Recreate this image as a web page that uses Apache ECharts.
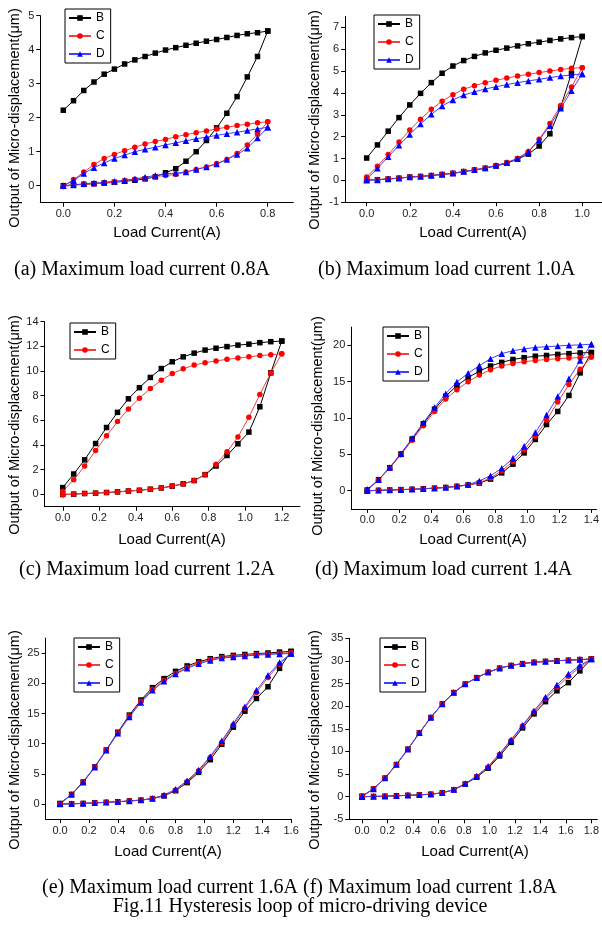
<!DOCTYPE html>
<html>
<head>
<meta charset="utf-8">
<script src="https://cdn.jsdelivr.net/npm/echarts@6/dist/echarts.min.js"></script>
<style>
  html, body { margin: 0; padding: 0; background: #fff; }
  #chart { width: 602px; height: 928px; }
</style>
</head>
<body>
<div id="chart"></div>
<script>
// ---- datos (lectura de la figura) ----
// (a) corriente máx 0.8A
const xA = [0, 0.04, 0.08, 0.12, 0.16, 0.2, 0.24, 0.28, 0.32, 0.36, 0.4, 0.44, 0.48, 0.52, 0.56, 0.6, 0.64, 0.68, 0.72, 0.76, 0.8];
const bLoA = [0.0, 0.02, 0.04, 0.06, 0.08, 0.1, 0.13, 0.16, 0.2, 0.26, 0.38, 0.5, 0.72, 1.0, 1.33, 1.7, 2.13, 2.62, 3.2, 3.8, 4.55];
const bUpA = [2.22, 2.5, 2.8, 3.05, 3.28, 3.43, 3.58, 3.7, 3.8, 3.9, 3.99, 4.06, 4.13, 4.19, 4.25, 4.3, 4.36, 4.42, 4.47, 4.5, 4.55];
const cLoA = [-0.02, 0.02, 0.05, 0.05, 0.08, 0.1, 0.15, 0.19, 0.22, 0.27, 0.3, 0.33, 0.4, 0.48, 0.55, 0.65, 0.77, 0.95, 1.2, 1.52, 1.88];
const cUpA = [-0.02, 0.18, 0.4, 0.62, 0.8, 0.92, 1.03, 1.13, 1.23, 1.3, 1.36, 1.44, 1.5, 1.56, 1.61, 1.67, 1.72, 1.77, 1.81, 1.85, 1.88];
const dLoA = [0.0, 0.02, 0.06, 0.08, 0.1, 0.13, 0.16, 0.2, 0.25, 0.3, 0.35, 0.37, 0.4, 0.48, 0.55, 0.64, 0.77, 0.92, 1.1, 1.4, 1.72];
const dUpA = [0.0, 0.15, 0.36, 0.53, 0.67, 0.8, 0.9, 1.0, 1.07, 1.13, 1.2, 1.26, 1.32, 1.38, 1.43, 1.48, 1.53, 1.57, 1.62, 1.67, 1.72];

// (b) corriente máx 1.0A
const xB = [0, 0.05, 0.1, 0.15, 0.2, 0.25, 0.3, 0.35, 0.4, 0.45, 0.5, 0.55, 0.6, 0.65, 0.7, 0.75, 0.8, 0.85, 0.9, 0.95, 1.0];
const bLoB = [0.02, 0.03, 0.06, 0.1, 0.15, 0.18, 0.22, 0.27, 0.32, 0.4, 0.47, 0.55, 0.66, 0.78, 0.97, 1.2, 1.57, 2.13, 3.35, 4.9, 6.58];
const bUpB = [1.02, 1.62, 2.25, 2.87, 3.45, 3.98, 4.47, 4.9, 5.23, 5.48, 5.67, 5.83, 5.95, 6.05, 6.15, 6.25, 6.32, 6.4, 6.47, 6.53, 6.58];
const cLoB = [0.05, 0.03, 0.07, 0.1, 0.15, 0.18, 0.22, 0.27, 0.32, 0.4, 0.47, 0.57, 0.68, 0.82, 1.0, 1.32, 1.88, 2.6, 3.42, 4.27, 5.15];
const cUpB = [0.15, 0.65, 1.18, 1.75, 2.3, 2.8, 3.25, 3.62, 3.92, 4.17, 4.33, 4.47, 4.58, 4.68, 4.77, 4.85, 4.93, 5.0, 5.07, 5.13, 5.15];
const dLoB = [0.0, 0.02, 0.06, 0.1, 0.15, 0.18, 0.22, 0.27, 0.32, 0.4, 0.48, 0.57, 0.68, 0.8, 1.0, 1.3, 1.85, 2.5, 3.3, 4.1, 4.87];
const dUpB = [0.05, 0.55, 1.08, 1.6, 2.1, 2.58, 3.02, 3.4, 3.68, 3.9, 4.05, 4.18, 4.28, 4.38, 4.47, 4.55, 4.62, 4.7, 4.77, 4.82, 4.87];

// (c) corriente máx 1.2A
const xC = [0, 0.06, 0.12, 0.18, 0.24, 0.3, 0.36, 0.42, 0.48, 0.54, 0.6, 0.66, 0.72, 0.78, 0.84, 0.9, 0.96, 1.02, 1.08, 1.14, 1.2];
const bLoC = [0.0, 0.02, 0.07, 0.1, 0.15, 0.2, 0.27, 0.33, 0.42, 0.52, 0.67, 0.85, 1.12, 1.6, 2.3, 3.15, 4.1, 5.05, 7.1, 9.85, 12.43];
const bUpC = [0.55, 1.65, 2.8, 4.12, 5.42, 6.65, 7.75, 8.65, 9.48, 10.2, 10.75, 11.15, 11.45, 11.7, 11.85, 11.98, 12.1, 12.18, 12.3, 12.38, 12.43];
const cLoC = [-0.05, 0.02, 0.07, 0.1, 0.15, 0.2, 0.27, 0.33, 0.42, 0.52, 0.67, 0.85, 1.12, 1.6, 2.45, 3.45, 4.65, 6.25, 8.1, 9.85, 11.4];
const cUpC = [0.25, 1.18, 2.3, 3.55, 4.75, 5.9, 6.92, 7.8, 8.58, 9.25, 9.8, 10.18, 10.48, 10.68, 10.82, 10.95, 11.05, 11.15, 11.25, 11.32, 11.4];

// (d) corriente máx 1.4A
const xD = [0, 0.07, 0.14, 0.21, 0.28, 0.35, 0.42, 0.49, 0.56, 0.63, 0.7, 0.77, 0.84, 0.91, 0.98, 1.05, 1.12, 1.19, 1.26, 1.33, 1.4];
const bLoD = [0.0, 0.05, 0.1, 0.15, 0.2, 0.27, 0.35, 0.45, 0.6, 0.8, 1.05, 1.6, 2.45, 3.65, 5.2, 7.05, 9.1, 10.9, 13.1, 16.2, 19.0];
const bUpD = [0.1, 1.5, 3.15, 5.05, 7.1, 9.2, 11.2, 13.0, 14.45, 15.55, 16.45, 17.15, 17.65, 18.05, 18.3, 18.5, 18.6, 18.75, 18.85, 18.95, 19.0];
const cLoD = [0.0, 0.05, 0.1, 0.15, 0.2, 0.27, 0.35, 0.45, 0.6, 0.8, 1.1, 1.75, 2.75, 4.0, 5.6, 7.5, 9.7, 12.2, 14.6, 16.7, 18.4];
const cUpD = [0.05, 1.45, 3.1, 4.95, 6.95, 8.95, 10.9, 12.6, 13.9, 15.0, 15.9, 16.65, 17.15, 17.5, 17.75, 17.9, 18.05, 18.15, 18.25, 18.3, 18.4];
const dLoD = [0.0, 0.05, 0.1, 0.15, 0.2, 0.27, 0.35, 0.45, 0.6, 0.85, 1.35, 2.05, 3.1, 4.45, 6.1, 8.0, 10.4, 12.95, 15.4, 17.9, 20.15];
const dUpD = [0.2, 1.5, 3.2, 5.1, 7.2, 9.35, 11.45, 13.35, 14.95, 16.15, 17.2, 18.15, 18.85, 19.25, 19.5, 19.7, 19.8, 19.9, 20.0, 20.05, 20.15];

// (e) corriente máx 1.6A
const xE = [0, 0.08, 0.16, 0.24, 0.32, 0.4, 0.48, 0.56, 0.64, 0.72, 0.8, 0.88, 0.96, 1.04, 1.12, 1.2, 1.28, 1.36, 1.44, 1.52, 1.6];
const bLoE = [0.0, 0.05, 0.1, 0.2, 0.28, 0.38, 0.5, 0.65, 0.9, 1.35, 2.2, 3.55, 5.25, 7.35, 9.9, 12.75, 15.4, 17.5, 19.45, 22.5, 25.3];
const bUpE = [0.1, 1.6, 3.65, 6.15, 8.95, 11.9, 14.75, 17.25, 19.3, 20.8, 22.0, 22.9, 23.6, 24.1, 24.45, 24.65, 24.8, 24.95, 25.05, 25.2, 25.3];
const cLoE = [0.0, 0.05, 0.1, 0.2, 0.28, 0.38, 0.5, 0.65, 0.9, 1.4, 2.3, 3.7, 5.5, 7.7, 10.2, 13.1, 15.9, 18.5, 21.0, 23.2, 25.1];
const cUpE = [0.05, 1.55, 3.6, 6.1, 8.9, 11.8, 14.6, 17.05, 19.05, 20.5, 21.7, 22.65, 23.4, 23.95, 24.3, 24.5, 24.65, 24.8, 24.9, 25.0, 25.1];
const dLoE = [0.0, 0.05, 0.1, 0.2, 0.28, 0.38, 0.5, 0.65, 0.9, 1.5, 2.45, 3.85, 5.65, 7.9, 10.5, 13.35, 16.15, 18.85, 21.35, 23.45, 24.95];
const dUpE = [0.05, 1.6, 3.6, 6.1, 8.9, 11.75, 14.45, 16.85, 18.85, 20.35, 21.55, 22.5, 23.25, 23.8, 24.2, 24.4, 24.55, 24.7, 24.8, 24.9, 24.95];

// (f) corriente máx 1.8A
const xF = [0, 0.09, 0.18, 0.27, 0.36, 0.45, 0.54, 0.63, 0.72, 0.81, 0.9, 0.99, 1.08, 1.17, 1.26, 1.35, 1.44, 1.53, 1.62, 1.71, 1.8];
const bLoF = [0.0, 0.05, 0.1, 0.2, 0.3, 0.4, 0.55, 0.85, 1.5, 2.8, 4.3, 6.3, 9.0, 12.0, 15.2, 18.3, 21.0, 23.4, 25.2, 27.8, 30.4];
const bUpF = [0.1, 1.7, 4.1, 7.1, 10.5, 14.1, 17.5, 20.5, 23.0, 24.9, 26.3, 27.5, 28.4, 29.0, 29.4, 29.7, 29.9, 30.05, 30.15, 30.3, 30.4];
const cLoF = [0.0, 0.05, 0.1, 0.2, 0.3, 0.4, 0.55, 0.85, 1.55, 2.85, 4.45, 6.5, 9.3, 12.4, 15.6, 18.7, 21.6, 24.2, 26.6, 28.6, 30.4];
const cUpF = [0.1, 1.7, 4.1, 7.1, 10.5, 14.1, 17.5, 20.5, 23.0, 24.9, 26.3, 27.5, 28.4, 29.0, 29.4, 29.7, 29.9, 30.05, 30.15, 30.3, 30.4];
const dLoF = [0.0, 0.05, 0.1, 0.2, 0.3, 0.4, 0.55, 0.85, 1.6, 2.9, 4.55, 6.7, 9.5, 12.6, 15.8, 19.0, 22.0, 24.7, 27.1, 29.0, 30.4];
const dUpF = [0.1, 1.7, 4.1, 7.1, 10.5, 14.1, 17.5, 20.5, 23.0, 24.9, 26.3, 27.5, 28.4, 29.0, 29.4, 29.7, 29.9, 30.05, 30.15, 30.3, 30.4];

// marcas de los ejes
const xTicksA = [0, 0.2, 0.4, 0.6, 0.8];
const yTicksA = [0, 1, 2, 3, 4, 5];
const xTicksB = [0, 0.2, 0.4, 0.6, 0.8, 1.0];
const yTicksB = [-1, 0, 1, 2, 3, 4, 5, 6, 7];
const xTicksC = [0, 0.2, 0.4, 0.6, 0.8, 1.0, 1.2];
const yTicksC = [0, 2, 4, 6, 8, 10, 12, 14];
const xTicksD = [0, 0.2, 0.4, 0.6, 0.8, 1.0, 1.2, 1.4];
const yTicksD = [0, 5, 10, 15, 20];
const xTicksE = [0, 0.2, 0.4, 0.6, 0.8, 1.0, 1.2, 1.4, 1.6];
const yTicksE = [0, 5, 10, 15, 20, 25];
const xTicksF = [0, 0.2, 0.4, 0.6, 0.8, 1.0, 1.2, 1.4, 1.6, 1.8];
const yTicksF = [-5, 0, 5, 10, 15, 20, 25, 30, 35];

const captions = [
    '(a) Maximum load current 0.8A',
    '(b) Maximum load current 1.0A',
    '(c) Maximum load current 1.2A',
    '(d) Maximum load current 1.4A',
    '(e) Maximum load current 1.6A (f) Maximum load current 1.8A',
    'Fig.11 Hysteresis loop of micro-driving device'
];
const yTitle = 'Output of Micro-displacement(\u03bcm)';
const xTitle = 'Load Current(A)';

// ---- paneles ----
const SANS = '"Liberation Sans", Arial, sans-serif';
const SERIF = '"Liberation Serif", "Times New Roman", serif';

// (b), (d) y (f) quedan cortados por el borde derecho de la imagen
const paneles = [
    {x: xA, b: [bLoA, bUpA], c: [cLoA, cUpA], d: [dLoA, dUpA], xt: xTicksA, yt: yTicksA,
     xr: [-0.09, 0.9], yr: [-0.5, 5], grid: {left: 40.3, top: 15.7, width: 253, height: 187},
     legend: {left: 65, top: 9}, yT: [15, 118], xT: [167, 233]},
    {x: xB, b: [bLoB, bUpB], c: [cLoB, cUpB], d: [dLoB, dUpB], xt: xTicksB, yt: yTicksB,
     xr: [-0.1, 1.0916], yr: [-1, 7.5], grid: {left: 345.1, top: 16.4, width: 256.9, height: 185.8},
     legend: {left: 374, top: 15}, yT: [315, 120], xT: [473, 233]},
    {x: xC, b: [bLoC, bUpC], c: [cLoC, cUpC], d: null, xt: xTicksC, yt: yTicksC,
     xr: [-0.1, 1.3], yr: [-1, 14], grid: {left: 44.5, top: 321.7, width: 255.5, height: 185},
     legend: {left: 70, top: 323}, yT: [15, 425], xT: [172, 540]},
    {x: xD, b: [bLoD, bUpD], c: [cLoD, cUpD], d: [dLoD, dUpD], xt: xTicksD, yt: yTicksD,
     xr: [-0.1, 1.432], yr: [-2.5, 22.5], grid: {left: 351.3, top: 327.1, width: 250.7, height: 181.8},
     legend: {left: 383, top: 327}, yT: [318, 426], xT: [473, 540]},
    {x: xE, b: [bLoE, bUpE], c: [cLoE, cUpE], d: [dLoE, dUpE], xt: xTicksE, yt: yTicksE,
     xr: [-0.1, 1.6], yr: [-2.5, 27.5], grid: {left: 45.6, top: 638.2, width: 245.5, height: 180.9},
     legend: {left: 74, top: 638}, yT: [15, 740], xT: [168, 852]},
    {x: xF, b: [bLoF, bUpF], c: [cLoF, cUpF], d: [dLoF, dUpF], xt: xTicksF, yt: yTicksF,
     xr: [-0.1, 1.847], yr: [-5, 35], grid: {left: 349.3, top: 638.3, width: 252.7, height: 181},
     legend: {left: 380, top: 638}, yT: [315, 740], xT: [475, 852]}
];

const estilos = {
    B: {symbol: 'rect', symbolSize: 5.5, color: '#000000', line: '#000000'},
    C: {symbol: 'circle', symbolSize: 5.5, color: '#ff0000', line: '#f04040'},
    D: {symbol: 'triangle', symbolSize: 6.5, color: '#0000ff', line: '#4040ff'}
};

// rama de subida y luego de bajada, como un solo trazo
function lazo(xs, ramas) {
    const datos = xs.map((x, i) => [x, ramas[0][i]]);
    for (let i = xs.length - 1; i >= 0; i--) {
        datos.push([xs[i], ramas[1][i]]);
    }
    return datos;
}

const grids = [], xAxes = [], yAxes = [], series = [], legends = [], graphic = [];

paneles.forEach((p, k) => {
    grids.push(Object.assign({containLabel: false}, p.grid));
    xAxes.push({
        type: 'value', gridIndex: k, min: p.xr[0], max: p.xr[1],
        axisLine: {onZero: false, lineStyle: {color: '#000', width: 1}},
        axisTick: {customValues: p.xt, length: 4, lineStyle: {color: '#000'}},
        axisLabel: {customValues: p.xt, formatter: v => v.toFixed(1), color: '#222', fontSize: 11, fontFamily: SANS, margin: 6},
        splitLine: {show: false}
    });
    yAxes.push({
        type: 'value', gridIndex: k, min: p.yr[0], max: p.yr[1],
        axisLine: {show: true, onZero: false, lineStyle: {color: '#000', width: 1}},
        axisTick: {show: true, customValues: p.yt, length: 4, lineStyle: {color: '#000'}},
        axisLabel: {customValues: p.yt, color: '#222', fontSize: 11, fontFamily: SANS, margin: 6},
        splitLine: {show: false}
    });

    const nombres = p.d ? ['B', 'C', 'D'] : ['B', 'C'];
    nombres.forEach(n => {
        const e = estilos[n];
        series.push({
            name: n, type: 'line', xAxisIndex: k, yAxisIndex: k,
            data: lazo(p.x, p[n.toLowerCase()]),
            symbol: e.symbol, symbolSize: e.symbolSize,
            itemStyle: {color: e.color},
            lineStyle: {color: e.line, width: 1},
            animation: false
        });
    });

    legends.push({
        data: nombres, left: p.legend.left, top: p.legend.top, orient: 'vertical',
        itemWidth: 22, itemHeight: 7, itemGap: 6, padding: [3, 6, 3, 3],
        borderColor: '#000', borderWidth: 1, selectedMode: false,
        textStyle: {fontSize: 12, fontFamily: SANS, color: '#000'}
    });

    graphic.push({
        type: 'text', x: p.yT[0], y: p.yT[1], rotation: Math.PI / 2,
        style: {text: yTitle, font: '14.5px ' + SANS, fill: '#000', textAlign: 'center', textVerticalAlign: 'middle'}
    });
    graphic.push({
        type: 'text', x: p.xT[0], y: p.xT[1],
        style: {text: xTitle, font: '15px ' + SANS, fill: '#000', textAlign: 'center', textVerticalAlign: 'middle'}
    });
});

// pies de figura
const posCaptions = [[14, 270, 'left'], [318, 270, 'left'], [19, 570, 'left'], [315, 570, 'left'], [42, 888, 'left'], [300, 907, 'center']];
captions.forEach((t, i) => {
    graphic.push({
        type: 'text', x: posCaptions[i][0], y: posCaptions[i][1],
        style: {text: t, font: '20px ' + SERIF, fill: '#000', textAlign: posCaptions[i][2], textVerticalAlign: 'middle'}
    });
});

const myChart = echarts.init(document.getElementById('chart'));
myChart.setOption({
    backgroundColor: '#fff',
    animation: false,
    grid: grids,
    xAxis: xAxes,
    yAxis: yAxes,
    legend: legends,
    series: series,
    graphic: graphic
});
</script>
</body>
</html>
